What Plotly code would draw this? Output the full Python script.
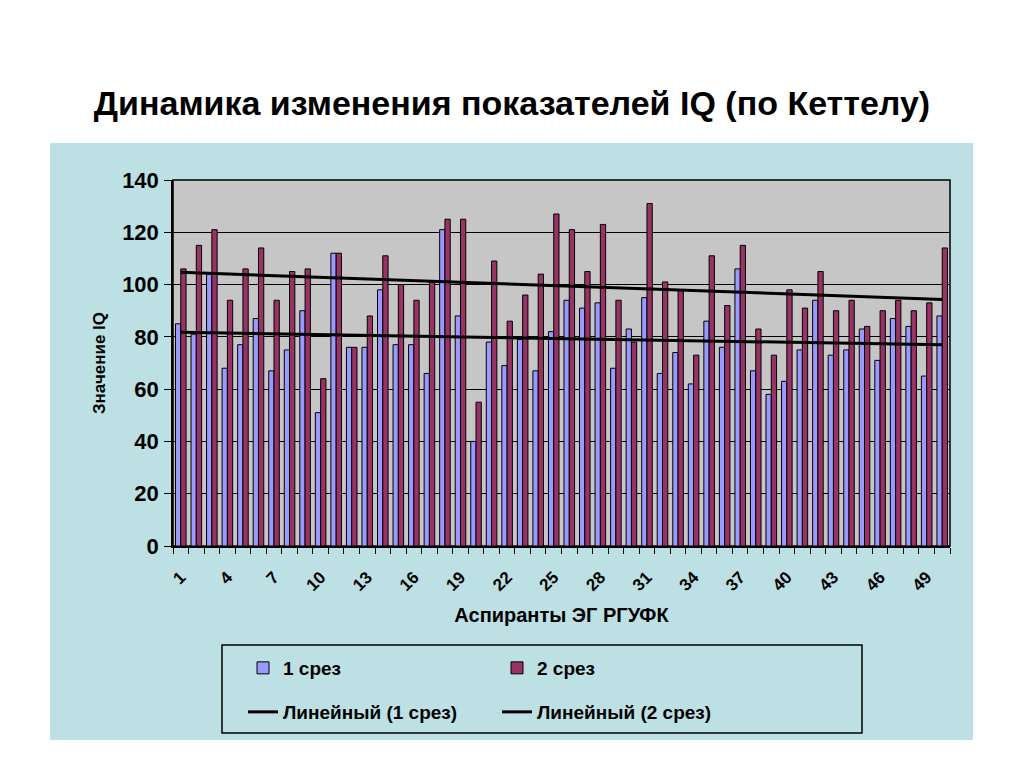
import numpy as np
import plotly.graph_objects as go

# ---- data ----
students = list(range(1, 51))
srez1 = [85, 81, 104, 68, 77, 87, 67, 75, 90, 51,
         112, 76, 76, 98, 77, 77, 66, 121, 88, 40,
         78, 69, 79, 67, 82, 94, 91, 93, 68, 83,
         95, 66, 74, 62, 86, 76, 106, 67, 58, 63,
         75, 94, 73, 75, 83, 71, 87, 84, 65, 88]
srez2 = [106, 115, 121, 94, 106, 114, 94, 105, 106, 64,
         112, 76, 88, 111, 100, 94, 101, 125, 125, 55,
         109, 86, 96, 104, 127, 121, 105, 123, 94, 78,
         131, 101, 98, 73, 111, 92, 115, 83, 73, 98,
         91, 105, 90, 94, 84, 90, 94, 90, 93, 114]
tick_labels = list(range(1, 51, 3))
y_ticks = [0, 20, 40, 60, 80, 100, 120, 140]

# linear trends (as Excel "Линейный" trendline)
x_arr = np.array(students, dtype=float)
t1 = np.polyval(np.polyfit(x_arr, srez1, 1), x_arr)
t2 = np.polyval(np.polyfit(x_arr, srez2, 1), x_arr)

FONT = "Liberation Sans"
OFF = 8  # page body margin
W, H = 1024, 767
L = 173 - OFF
T = 180 - OFF
R = W - (950 - OFF)
B = H - (546 - OFF)
PW, PH = W - L - R, H - T - B


def px_x(px):
    return (px - OFF - L) / PW


def px_y(py):
    return (H - B - (py - OFF)) / PH


fig = go.Figure()
fig.add_trace(go.Bar(x=students, y=srez1, name="1 срез",
                     marker=dict(color="#9999ff", line=dict(color="black", width=1)),
                     legend="legend"))
fig.add_trace(go.Bar(x=students, y=srez2, name="2 срез",
                     marker=dict(color="#993366", line=dict(color="black", width=1)),
                     legend="legend"))
fig.add_trace(go.Scatter(x=students, y=t1, mode="lines", name="Линейный (1 срез)",
                         line=dict(color="black", width=3), legend="legend2"))
fig.add_trace(go.Scatter(x=students, y=t2, mode="lines", name="Линейный (2 срез)",
                         line=dict(color="black", width=3), legend="legend2"))

shapes = [
    # light-blue chart area
    dict(type="rect", xref="paper", yref="paper", layer="below",
         x0=px_x(50), x1=px_x(973), y0=px_y(740), y1=px_y(143),
         fillcolor="#bde0e4", line=dict(width=0)),
    # grey plot area
    dict(type="rect", xref="paper", yref="paper", layer="below",
         x0=0, x1=1, y0=0, y1=1,
         fillcolor="#c6c6c6", line=dict(color="black", width=1.5)),
    # legend box
    dict(type="rect", xref="paper", yref="paper", layer="below",
         x0=px_x(222), x1=px_x(862), y0=px_y(733), y1=px_y(645),
         fillcolor="rgba(0,0,0,0)", line=dict(color="black", width=1.5)),
]

fig.update_layout(
    width=W, height=H,
    margin=dict(l=L, r=R, t=T, b=B, autoexpand=False),
    paper_bgcolor="white",
    plot_bgcolor="rgba(0,0,0,0)",
    barmode="group", bargap=0.32, bargroupgap=0,
    showlegend=True,
    shapes=shapes,
    font=dict(family=FONT, color="black", weight="bold"),
    title=dict(text="Динамика изменения показателей IQ (по Кеттелу)",
               x=(512 - OFF) / W, xref="container", xanchor="center",
               y=1 - (103 - OFF) / H, yref="container", yanchor="middle",
               font=dict(family=FONT, size=34, weight="bold", color="black")),
    xaxis=dict(range=[0.5, 50.5], tickmode="array", tickvals=tick_labels,
               ticktext=[str(v) for v in tick_labels], tickangle=-45,
               ticks="", ticklen=0, ticklabelstandoff=13,
               tickfont=dict(family=FONT, size=17, weight="bold"),
               minor=dict(tickmode="linear", tick0=0.5, dtick=1, ticks="outside",
                          ticklen=6, tickcolor="black", tickwidth=1.2, showgrid=False),
               showline=True, linecolor="black", linewidth=1.5, showgrid=False,
               zeroline=False, fixedrange=True,
               title=dict(text="Аспиранты ЭГ РГУФК", standoff=14,
                          font=dict(family=FONT, size=20, weight="bold"))),
    yaxis=dict(range=[0, 140], tickmode="array", tickvals=y_ticks,
               ticks="outside", ticklen=7, tickcolor="black", tickwidth=1.2,
               ticklabelstandoff=1,
               tickfont=dict(family=FONT, size=22, weight="bold"),
               showline=True, linecolor="black", linewidth=1.5,
               showgrid=True, gridcolor="black", gridwidth=1,
               zeroline=False,
               title=dict(text="Значение IQ", standoff=12,
                          font=dict(family=FONT, size=17, weight="bold"))),
    legend=dict(orientation="h", x=px_x(243), y=px_y(668), xanchor="left", yanchor="middle",
                xref="paper", yref="paper", entrywidth=209, entrywidthmode="pixels",
                bgcolor="rgba(0,0,0,0)", borderwidth=0,
                font=dict(family=FONT, size=19, weight="bold")),
    legend2=dict(orientation="h", x=px_x(243), y=px_y(712), xanchor="left", yanchor="middle",
                 xref="paper", yref="paper", entrywidth=209, entrywidthmode="pixels",
                 bgcolor="rgba(0,0,0,0)", borderwidth=0,
                 font=dict(family=FONT, size=19, weight="bold")),
)

fig.write_html("out.html")
